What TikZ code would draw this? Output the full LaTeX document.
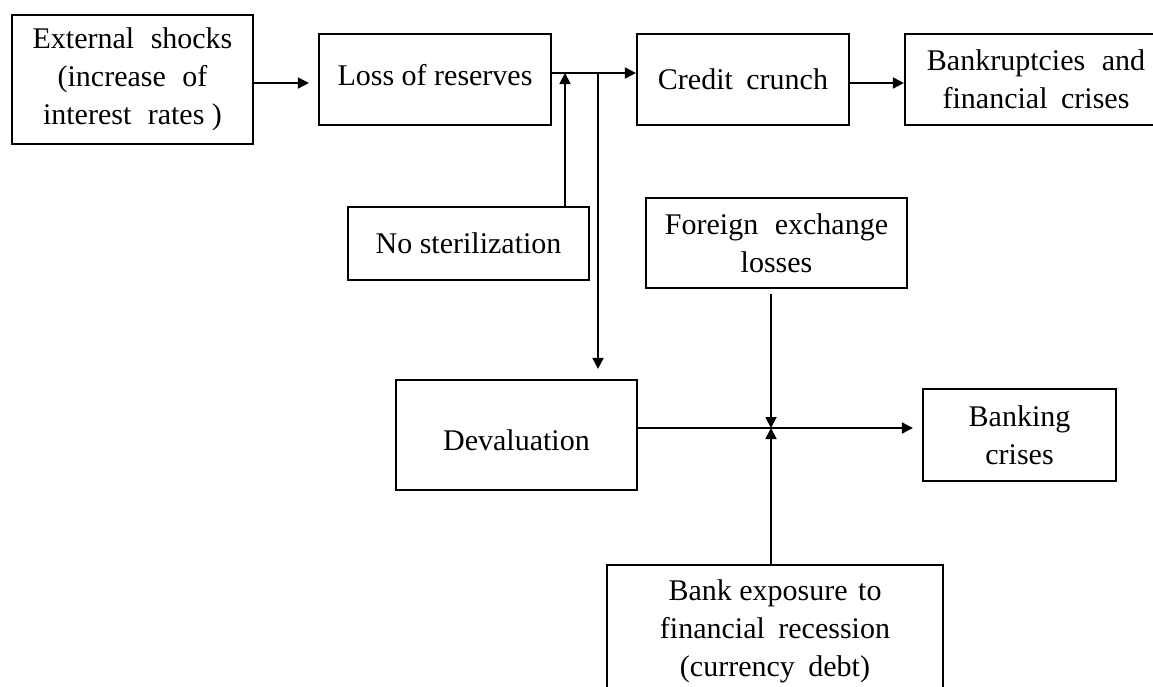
\documentclass[tikz,border=0pt]{standalone}
\usepackage{fontspec}
\setmainfont{Liberation Serif}
\usetikzlibrary{arrows.meta}
\begin{document}
\begin{tikzpicture}[x=1pt,y=-1pt,
  box/.style={draw,line width=2.2pt,inner sep=0pt,align=center,font=\fontsize{30}{38}\selectfont},
  arr/.style={line width=1.8pt,-{Triangle[length=11pt,width=11pt]}}]
\clip (0,0) rectangle (1153,686);
\fill[white] (0,0) rectangle (1153,686);

\node[box,minimum width=241pt,minimum height=129pt] (ext) at (132.5,79.5)
  {External\hspace{0.3em} shocks\\(increase\hspace{0.3em} of\\interest\hspace{0.3em} rates )};
\node[box,minimum width=232pt,minimum height=91pt] (loss) at (435,79.5)
  {\raisebox{4pt}[\height][\depth]{Loss of reserves}};
\node[box,minimum width=212pt,minimum height=91pt] (credit) at (743,79.5) {Credit\hspace{0.2em} crunch};
\node[box,minimum width=262pt,minimum height=91pt] (bkr) at (1036,79.5)
  {Bankruptcies\hspace{0.3em} and\\financial\hspace{0.2em} crises};
\node[box,minimum width=241pt,minimum height=73pt] (nost) at (468.5,243.5) {No sterilization};
\node[box,minimum width=261pt,minimum height=90pt] (forex) at (776.5,243)
  {Foreign\hspace{0.3em} exchange\\losses};
\node[box,minimum width=241pt,minimum height=110pt] (deval) at (516.5,435)
  {\raisebox{-5pt}[\height][\depth]{Devaluation}};
\node[box,minimum width=193pt,minimum height=92pt] (bcris) at (1019.5,435) {Banking\\crises};
\node[box,minimum width=336pt,minimum height=132pt] (bexp) at (775,631)
  {Bank exposure\hspace{0.1em} to\\financial\hspace{0.2em} recession\\(currency\hspace{0.2em} debt)};

\coordinate (j1) at (565,73);
\coordinate (j2) at (598,73);
\coordinate (j3) at (771,428);

\draw[arr,shorten >=9pt] (ext.east |- 0,83) -- (loss.west |- 0,83);
\draw[arr] (loss.east |- j1) -- (credit.west |- j1);
\draw[arr] (credit.east |- 0,83) -- (bkr.west |- 0,83);
\draw[arr] (nost.north -| j1) -- (j1);
\draw[arr,shorten >=10pt] (j2) -- (deval.north -| j2);
\draw[arr,shorten >=9pt] (deval.east |- j3) -- (bcris.west |- j3);
\draw[arr,shorten <=5pt] (forex.south -| j3) -- (j3);
\draw[arr] (bexp.north -| j3) -- (j3);
\end{tikzpicture}
\end{document}
